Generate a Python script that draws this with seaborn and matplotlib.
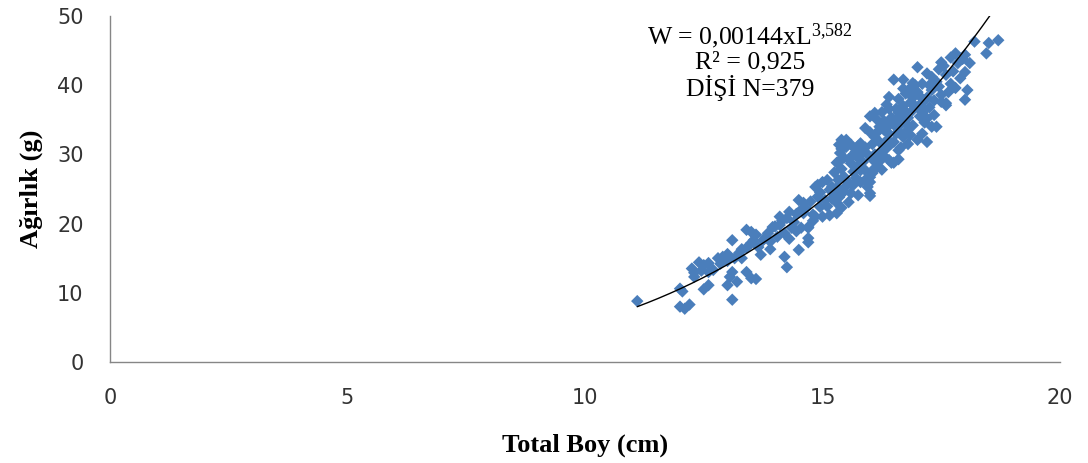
import numpy as np
import pandas as pd
import matplotlib
matplotlib.use("Agg")
import matplotlib.pyplot as plt
import seaborn as sns

# ---- data ----
length_cm = [
    11.1, 12.0, 12.1, 12.2, 12.0, 12.05, 12.3, 12.25, 12.4, 12.5, 12.3, 12.45,
    12.5, 12.6, 12.6, 12.7, 12.8, 12.6, 12.9, 13.0, 13.1, 13.0, 13.1, 13.05, 13.2, 13.1, 13.0, 12.85, 13.15,
    13.25, 13.3, 13.4, 13.4, 13.5, 13.4, 13.5, 13.6, 13.65, 13.75, 13.8, 13.9, 13.95, 14.0, 13.9, 13.7, 13.5, 13.3, 13.55, 13.6, 13.85,
    14.05, 14.2, 14.25, 14.1, 14.15, 14.25, 14.3, 14.35, 14.4, 14.45, 14.2, 14.3, 14.1, 14.45,
    14.5, 14.7, 14.55, 14.7, 14.6, 14.8, 14.5, 14.65, 14.75, 14.7, 14.7, 14.85, 14.9, 14.95, 14.6, 14.8, 14.9, 14.55, 14.95, 14.85,
    15.0, 15.0, 15.15, 15.3, 15.35, 15.33, 15.3, 15.2, 15.4, 15.35, 15.37, 15.3, 15.45, 15.1, 15.25, 15.4, 15.2, 15.05, 15.3, 15.45,
    15.15, 15.4, 15.35, 15.45, 15.25, 15.1, 15.4, 15.5, 15.48,
    15.5, 15.55, 15.6, 15.65, 15.7, 15.75, 15.8, 15.8, 15.8, 15.85, 15.9, 15.9, 15.9, 15.95, 15.6, 15.7, 15.55, 15.65, 15.75, 15.85,
    15.6, 15.7, 15.95, 15.55, 15.8, 15.9, 15.65, 15.75,
    16.0, 16.0, 16.0, 16.05, 16.0, 16.1, 16.15, 16.25, 16.2, 16.3, 16.4, 16.4, 16.45, 16.35, 16.25, 16.1, 16.2, 16.05, 16.3, 16.45,
    16.15, 16.35, 16.4, 16.1, 16.2, 16.0, 16.3, 16.45, 16.25, 16.05, 16.4, 16.15, 16.35, 16.1, 16.3, 16.2, 16.4, 16.0,
    16.5, 16.7, 16.5, 16.6, 16.6, 16.55, 16.65, 16.7, 16.75, 16.8, 16.85, 16.9, 16.55, 16.6, 16.7, 16.8, 16.9, 16.95, 16.5, 16.65,
    16.75, 16.85, 16.6, 16.7, 16.8, 16.9, 16.55, 16.95, 16.75, 16.65, 16.85, 16.5, 16.9, 16.6, 16.7, 16.8,
    17.0, 17.2, 17.0, 17.1, 17.3, 17.4, 17.2, 17.0, 17.1, 17.2, 17.3, 17.4, 17.05, 17.15, 17.25, 17.35, 17.45, 17.0, 17.1, 17.2,
    17.3, 17.45, 17.05, 17.15, 17.35, 17.25,
    17.5, 17.55, 17.5, 17.6, 17.5, 17.6, 17.7, 17.8, 17.8, 17.85, 17.75, 17.9, 17.6, 17.7, 17.95, 17.65,
    18.0, 18.0, 18.05, 18.0, 18.2, 18.45, 18.5, 18.7, 18.1,
]
weight_g = [
    8.8, 8.0, 7.7, 8.3, 10.6, 10.2, 12.9, 13.5, 14.4, 14.0, 12.3, 13.2,
    10.5, 11.1, 13.0, 13.3, 15.0, 14.3, 15.2, 15.6, 17.6, 11.1, 9.0, 12.3, 11.6, 13.0, 14.6, 14.2, 15.0,
    15.8, 16.3, 16.5, 19.1, 18.8, 13.0, 12.1, 12.0, 16.6, 17.6, 18.0, 17.4, 19.5, 19.6, 16.3, 15.5, 17.2, 15.0, 17.6, 18.4, 18.6,
    18.1, 15.2, 13.7, 19.8, 20.4, 20.8, 21.7, 19.4, 20.2, 18.9, 18.6, 17.8, 21.0, 21.4,
    16.2, 17.3, 19.4, 19.4, 23.0, 21.3, 23.4, 22.2, 23.2, 19.5, 17.9, 25.3, 25.6, 22.4, 21.5, 20.4, 23.9, 22.0, 24.5, 21.0,
    21.0, 26.0, 24.9, 23.0, 23.8, 26.3, 21.5, 25.3, 32.1, 31.4, 30.2, 28.8, 29.5, 22.5, 27.4, 27.9, 23.6, 23.4, 25.2, 24.6,
    21.2, 22.3, 29.0, 26.8, 24.2, 26.3, 30.8, 31.1, 25.3,
    32.1, 25.9, 31.4, 27.5, 30.4, 24.1, 29.2, 31.6, 27.7, 30.4, 26.3, 27.7, 33.8, 25.3, 28.7, 26.6, 23.1, 30.0, 28.3, 28.9,
    24.4, 29.8, 30.0, 29.3, 26.0, 31.0, 25.6, 31.2,
    26.7, 24.4, 26.0, 27.3, 24.0, 36.0, 33.2, 36.1, 31.8, 33.5, 38.3, 29.2, 28.8, 32.0, 30.6, 30.0, 29.0, 31.5, 34.8, 35.3,
    28.2, 30.9, 33.0, 32.5, 34.0, 33.2, 29.7, 31.6, 27.8, 29.3, 36.6, 35.0, 37.2, 28.0, 31.2, 30.0, 34.2, 35.5,
    40.8, 40.8, 28.8, 30.6, 29.3, 33.0, 35.5, 37.0, 38.8, 35.3, 39.6, 38.2, 36.6, 34.0, 32.5, 33.6, 36.4, 40.0, 31.8, 31.0,
    34.5, 37.5, 38.0, 39.5, 31.5, 34.2, 35.0, 37.0, 36.2, 33.0, 32.8, 34.3, 40.3, 36.0, 35.0, 39.0,
    42.6, 41.7, 32.1, 33.0, 34.0, 34.0, 31.8, 39.0, 37.5, 38.2, 39.3, 40.5, 35.5, 36.4, 36.8, 37.8, 39.8, 36.8, 40.2, 35.2,
    41.2, 42.3, 38.4, 34.6, 35.7, 40.0,
    43.3, 42.8, 38.6, 37.1, 37.6, 37.4, 40.2, 39.6, 44.6, 43.2, 42.0, 41.0, 41.5, 44.0, 43.8, 39.0,
    44.4, 41.9, 39.3, 37.9, 46.3, 44.6, 46.1, 46.5, 43.2,
]

# power-law trendline given on the chart: W = a * L^b
trend_a = 0.00144
trend_b = 3.582

x_ticks = [0, 5, 10, 15, 20]
y_ticks = [0, 10, 20, 30, 40, 50]
x_label = "Total Boy (cm)"
y_label = "Ağırlık (g)"
annotation_lines = ["W = 0,00144xL$^{3{,}582}$", "R² = 0,925", "DİŞİ N=379"]

# ---- plotting ----
sns.set_theme(style="white")
plt.rcParams["font.family"] = ["DejaVu Sans"]
plt.rcParams["mathtext.default"] = "regular"

fig = plt.figure(figsize=(10.88, 4.63), dpi=100)
ax = fig.add_axes([110 / 1088, 101 / 463, 950 / 1088, 346 / 463])

df = pd.DataFrame({"L": length_cm, "W": weight_g})
sns.scatterplot(data=df, x="L", y="W", ax=ax, marker="D", s=40,
                color="#4A7EBB", linewidth=0, edgecolor="none", legend=False, zorder=2)

curve_x = np.linspace(min(length_cm), max(length_cm), 200)
curve_y = trend_a * curve_x ** trend_b
sns.lineplot(x=curve_x, y=curve_y, ax=ax, color="black", linewidth=1.0, zorder=3)

ax.set_xlim(0, 20)
ax.set_ylim(0, 50)
ax.set_xticks(x_ticks)
ax.set_yticks(y_ticks)
ax.tick_params(axis="both", length=0, labelsize=15, labelcolor="#333333")
ax.tick_params(axis="x", pad=19)
ax.tick_params(axis="y", pad=19)

for side in ["top", "right"]:
    ax.spines[side].set_visible(False)
for side in ["left", "bottom"]:
    ax.spines[side].set_color("#868686")
    ax.spines[side].set_linewidth(1.0)

ax.set_xlabel(x_label, fontfamily="Liberation Serif", fontweight="bold", fontsize=19, labelpad=18, color="black")
ax.set_ylabel(y_label, fontfamily="Liberation Serif", fontweight="bold", fontsize=19, labelpad=10, color="black")

ax.text(750 / 1088, 1 - 61 / 463, "\n".join(annotation_lines), transform=fig.transFigure,
        ha="center", va="center", multialignment="center",
        fontfamily="Liberation Serif", fontsize=18.5, color="black", linespacing=1.05)

fig.savefig("out.png", dpi=100)
